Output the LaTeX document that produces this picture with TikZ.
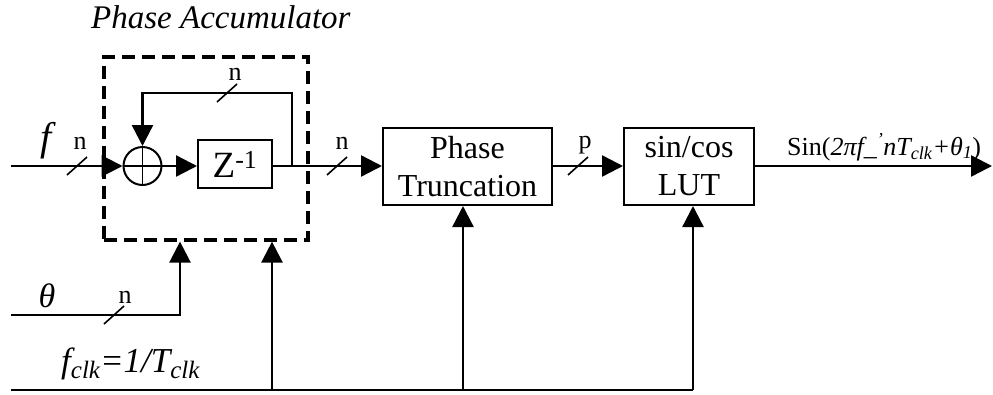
\documentclass[tikz,border=0pt]{standalone}
\usepackage{fontspec}
\setmainfont{Liberation Serif}
\usetikzlibrary{arrows.meta}
\newcommand{\bigsub}[1]{\raisebox{-6pt}{\fontsize{25}{25}\selectfont #1}}
\begin{document}
\begin{tikzpicture}[x=1pt,y=-1pt,
  line width=2.4pt,
  arr/.style={-{Triangle[length=21pt,width=21pt]}},
  blk/.style={draw,line width=2pt,inner sep=0pt,align=center,font=\fontsize{32}{38}\selectfont},
  dbox/.style={draw,dash pattern=on 13pt off 7pt,line width=3.2pt,inner sep=0pt},
  lbl/.style={inner sep=0pt,font=\fontsize{26}{26}\selectfont},
  slash/.style={line width=1.6pt}]
\useasboundingbox (0,0) rectangle (993,394);
% blocks
\node[dbox,minimum width=204pt,minimum height=183pt] (acc) at (206,148.5) {};
\node[draw,circle,line width=2pt,minimum size=38pt,inner sep=0pt] (add) at (142.5,166) {};
\draw[line width=1.8pt] (add.north) -- (add.south) (add.west) -- (add.east);
\node[blk,minimum width=74pt,minimum height=48pt,font=\fontsize{37}{37}\selectfont] (z) at (235,164) {Z\textsuperscript{-1}};
\node[blk,minimum width=169pt,minimum height=77pt] (pt) at (467.5,166.5) {Phase\\Truncation};
\node[blk,minimum width=130pt,minimum height=77pt] (lut) at (689,166.5) {sin/cos\\LUT};
% coordinates
\coordinate (fin) at (11,166);
\coordinate (tap) at (292,166);
\coordinate (fbk) at (142.5,93);
\coordinate (out) at (992,166);
\coordinate (th0) at (11,315);
\coordinate (th1) at (180,315);
\coordinate (c0) at (11,390);
\coordinate (c1) at (272,390);
\coordinate (c2) at (463,390);
\coordinate (c3) at (693,390);
% connectors
\draw[arr] (fin) -- (add.west);
\draw[arr] (add.east) -- (z.west |- add.east);
\draw[arr] (z.east |- tap) -- (pt.west |- tap);
\draw[arr] (tap) |- (fbk) -- (add.north);
\draw[arr] (pt.east |- tap) -- (lut.west |- tap);
\draw[arr] (lut.east |- tap) -- (out);
\draw[arr] (th0) -- (th1) -- (th1 |- acc.south);
\draw (c0) -- (c3);
\draw[arr] (c1) -- (c1 |- acc.south);
\draw[arr] (c2) -- (c2 |- pt.south);
\draw[arr] (c3) -- (c3 |- lut.south);
% slashes
\foreach \p in {(77,166),(227,93),(337,166),(578,166),(114,315)}
  \draw[slash] \p ++(-10,9) -- ++(20,-18);
% labels
\node[lbl,anchor=base] (n1) at (80,149) {n};
\node[lbl,anchor=base] (n2) at (235,80) {n};
\node[lbl,anchor=base] (n3) at (342,149) {n};
\node[lbl,anchor=base] (n4) at (125,303) {n};
\node[lbl,anchor=base] (np) at (585,148) {p};
\node[inner sep=0pt,anchor=base,font=\fontsize{40}{40}\selectfont\itshape] (lf) at (46,150) {f};
\node[inner sep=0pt,anchor=base,font=\fontsize{34}{34}\selectfont\itshape] (lth) at (47,307) {θ};
\node[inner sep=0pt,anchor=base west,font=\fontsize{33}{33}\selectfont\itshape] (ttl) at (90,28) {Phase Accumulator};
\node[inner sep=0pt,anchor=base west,font=\fontsize{35}{35}\selectfont\itshape] (lclk) at (60,372) {f\bigsub{clk}=1/T\bigsub{clk}};
\node[inner sep=0pt,anchor=base west,font=\fontsize{26}{26}\selectfont] (lout) at (786,155) {Sin(\textit{2πf\_\textsuperscript{'}nT\textsubscript{clk}+θ\textsubscript{1}})};
\end{tikzpicture}
\end{document}
